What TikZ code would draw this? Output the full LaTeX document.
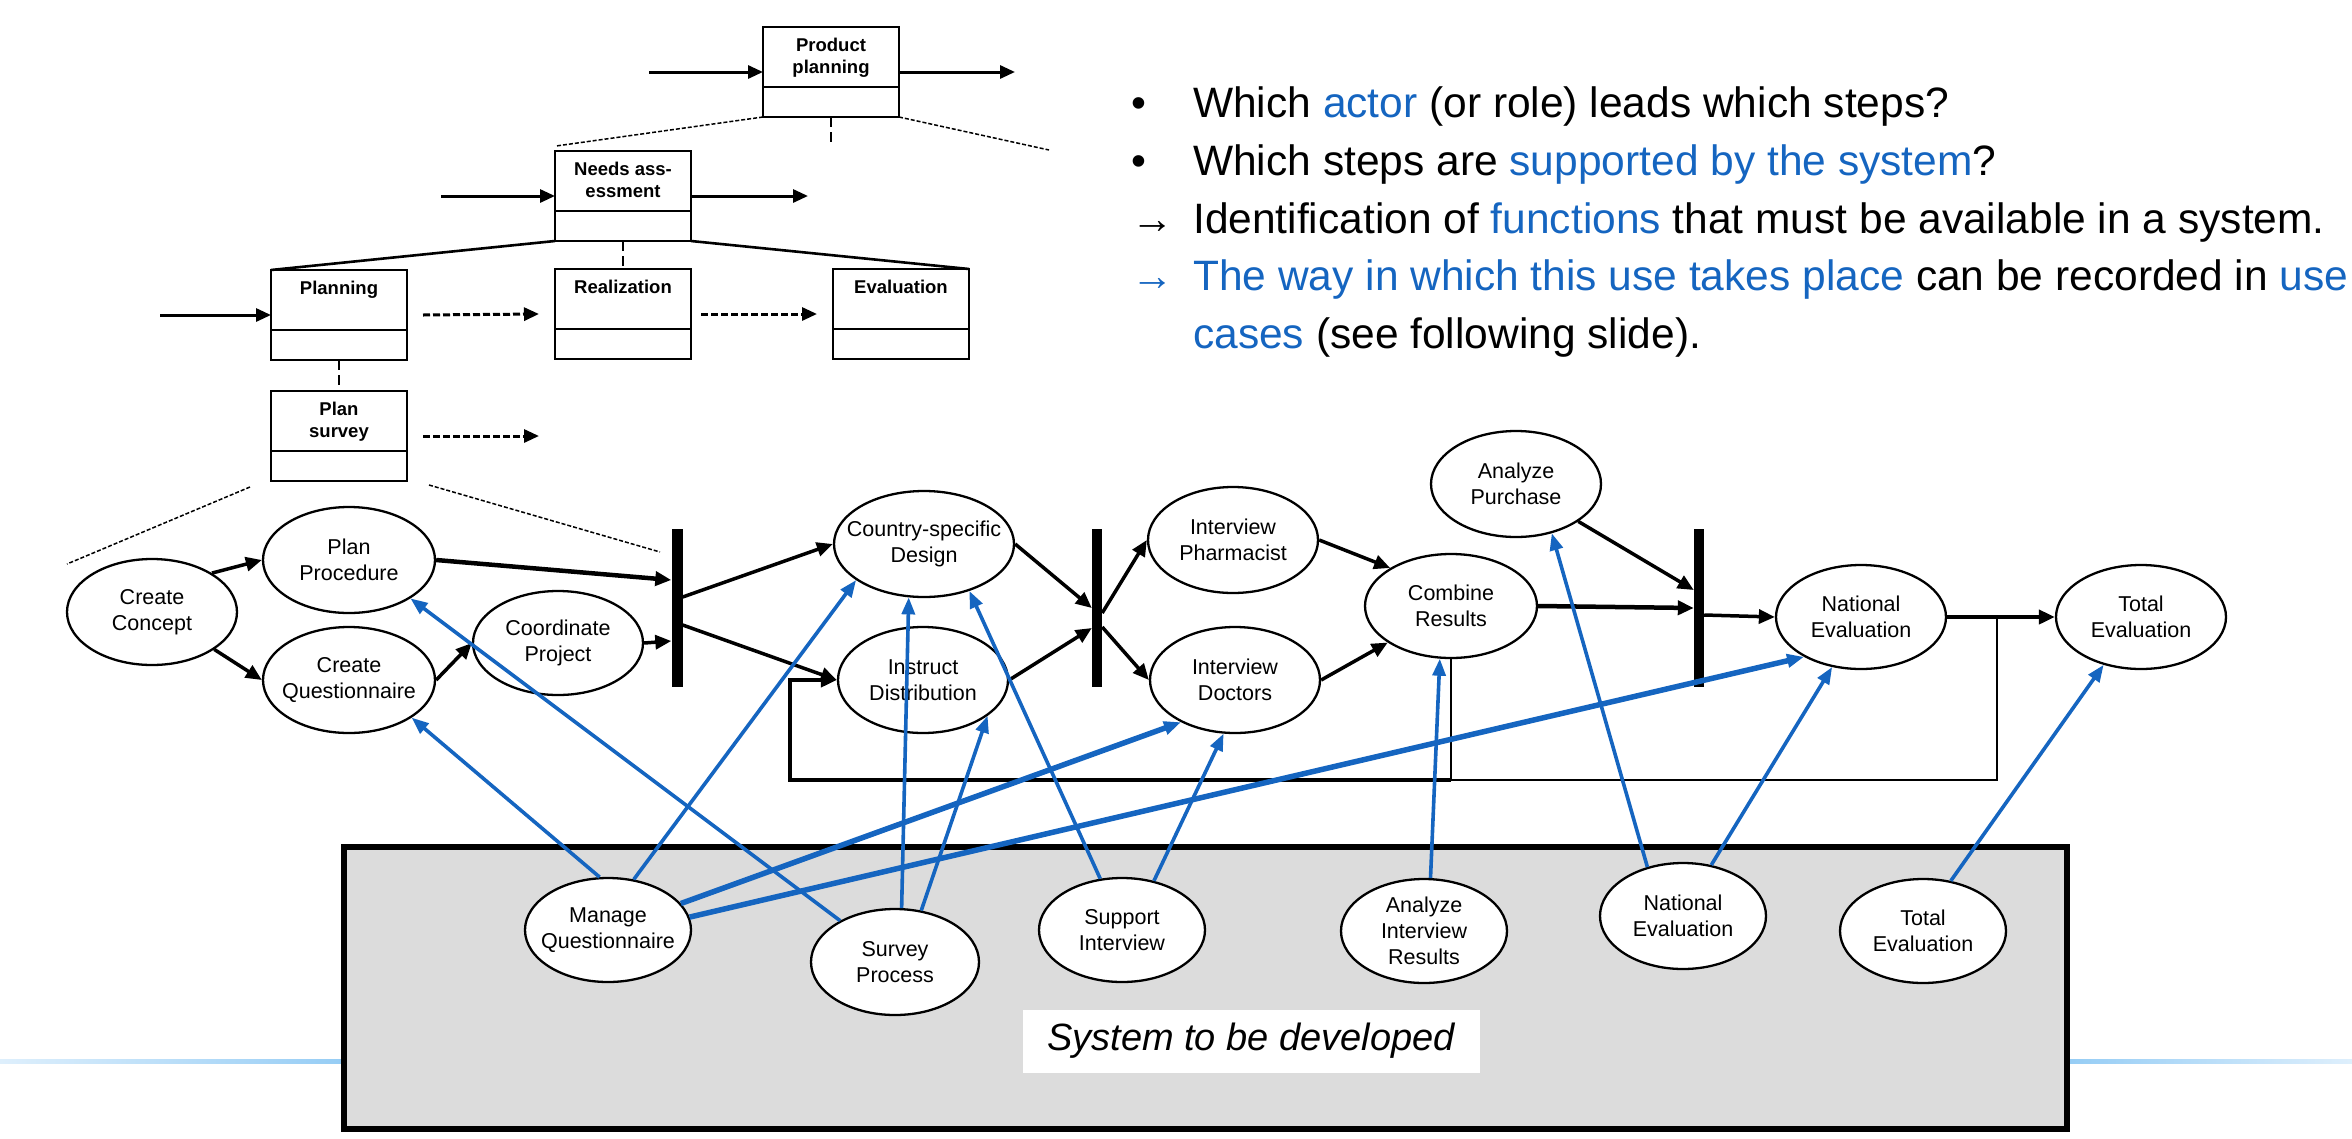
\documentclass[tikz,border=0pt]{standalone}
\usepackage{fontspec}
\setmainfont{Liberation Sans}
\usetikzlibrary{shapes.geometric,arrows.meta}
\definecolor{sysblue}{RGB}{21,101,192}
\definecolor{sysgray}{RGB}{220,220,220}
\definecolor{fadeblue}{RGB}{150,205,245}
\definecolor{paleblue}{RGB}{222,239,252}
\newcommand{\boxtext}[1]{\parbox[c][68pt][t]{130pt}{\centering #1}}
\tikzset{
  procbox/.style={draw, line width=2.6pt, minimum width=136pt, minimum height=90pt,
    inner sep=0pt, outer sep=0pt, font=\fontsize{18.5}{22}\selectfont\bfseries},
  activity/.style={ellipse, draw, line width=2.3pt, fill=white, inner xsep=-30pt, inner ysep=0pt,
    minimum width=170pt, minimum height=106pt, align=center, font=\fontsize{21.5}{26}\selectfont},
  syncbar/.style={fill=black, inner sep=0pt, minimum width=10pt, minimum height=158pt},
  bigarrow/.style={line width=3pt, -{Triangle[length=15pt,width=13pt]}},
  dasharrow/.style={bigarrow, dash pattern=on 7pt off 3pt},
  zoomline/.style={line width=1.5pt, dash pattern=on 4pt off 2pt},
  refine/.style={line width=2pt, dash pattern=on 10pt off 5pt},
  flow/.style={line width=3.5pt, -{Triangle[length=16pt,width=14pt]}},
  sysarrow/.style={draw=sysblue, line width=3.6pt, -{Triangle[length=17pt,width=13pt]}},
  sysarrowthick/.style={sysarrow, line width=5.5pt},
  slidetext/.style={font=\fontsize{42.5}{58}\selectfont, anchor=base west, inner sep=0pt},
  syslabel/.style={fill=white, minimum width=457pt, minimum height=63pt, font=\fontsize{38}{46}\selectfont\itshape}
}
\begin{document}
\begin{tikzpicture}[x=1pt,y=-1pt]
\useasboundingbox (0,0) rectangle (2352,1138);

% system frame
\shade[left color=paleblue, right color=fadeblue] (0,1059) rectangle (341,1063);
\shade[left color=fadeblue, right color=paleblue] (2070,1059) rectangle (2352,1063);
\filldraw[fill=sysgray, line width=6pt] (344,847) rectangle (2067,1129);
\node[syslabel] (label) at (1251,1041) {System to be developed};

% process hierarchy
\node[procbox] (prod) at (831,72) {\boxtext{Product\\planning}};
\node[procbox] (needs) at (623,196) {\boxtext{Needs ass-\\essment}};
\node[procbox] (plan) at (339,315) {\boxtext{Planning}};
\node[procbox] (real) at (623,314) {\boxtext{Realization}};
\node[procbox] (eval) at (901,314) {\boxtext{Evaluation}};
\node[procbox] (survey) at (339,436) {\boxtext{Plan\\survey}};
\foreach \b in {prod,needs,plan,real,eval,survey}
  \draw[line width=2.6pt] ([yshift=-15pt]\b.west) -- ([yshift=-15pt]\b.east);

\coordinate (prodIn) at (649,72);
\coordinate (prodOut) at (1015,72);
\coordinate (needsIn) at (441,196);
\coordinate (needsOut) at (808,196);
\coordinate (planIn) at (160,315);
\coordinate (surveyOut) at (539,436);
\coordinate (prodL) at (556,146);
\coordinate (prodR) at (1049,150);
\coordinate (prodD) at (831,145);
\coordinate (surveyL0) at (250,487);
\coordinate (surveyL) at (67,564);
\coordinate (surveyR0) at (429,485);
\coordinate (surveyR) at (660,552);

\draw[bigarrow] (prodIn) -- (prod);
\draw[bigarrow] (prod) -- (prodOut);
\draw[bigarrow] (needsIn) -- (needs);
\draw[bigarrow] (needs) -- (needsOut);
\draw[bigarrow] (planIn) -- (plan);
\draw[dasharrow] ([xshift=16pt]plan.east) -- ([xshift=-16pt]real.west);
\draw[dasharrow] ([xshift=10pt]real.east) -- ([xshift=-16pt]eval.west);
\draw[dasharrow] ([xshift=16pt]survey.east) -- (surveyOut);
\draw[zoomline] (prod.south west) -- (prodL);
\draw[zoomline] (prod.south east) -- (prodR);
\draw[refine] (prod.south) -- (prodD);
\draw[line width=2.6pt] (needs.south west) -- (plan.north west);
\draw[line width=2.6pt] (needs.south east) -- (eval.north east);
\draw[refine] (needs.south) -- (real.north);
\draw[refine] (plan.south) -- (survey.north);
\draw[zoomline] (surveyL0) -- (surveyL);
\draw[zoomline] (surveyR0) -- (surveyR);

% activities of the survey
\node[activity] (cc) at (152,612) {Create\\Concept};
\node[activity, minimum width=172pt] (pp) at (349,560) {Plan\\Procedure};
\node[activity, minimum width=172pt] (cq) at (349,680) {Create\\Questionnaire};
\node[activity, minimum height=104pt] (cp) at (558,643) {Coordinate\\Project};
\node[syncbar, minimum width=11pt] (bar1) at (677,608) {};
\node[activity, minimum width=180pt] (csd) at (924,544) {Country-specific\\Design};
\node[activity] (id) at (923,680) {Instruct\\Distribution};
\node[syncbar] (bar2) at (1097,608) {};
\node[activity] (ip) at (1233,540) {Interview\\Pharmacist};
\node[activity] (idoc) at (1235,680) {Interview\\Doctors};
\node[activity, minimum width=172pt, minimum height=104pt] (cr) at (1451,606) {Combine\\Results};
\node[activity] (ap) at (1516,484) {Analyze\\Purchase};
\node[syncbar] (bar3) at (1699,608) {};
\node[activity, minimum height=104pt] (ne) at (1861,617) {National\\Evaluation};
\node[activity, minimum height=104pt] (te) at (2141,617) {Total\\Evaluation};

\draw[flow] (cc.33) -- (pp.west);
\draw[flow] (cc.329) -- (cq.west);
\draw[flow] (cq.east) -- (cp.west);
\draw[flow, line width=4.5pt] (pp.east) -- ([yshift=28pt]bar1.west);
\draw[flow] (cp.east) -- ([yshift=-33pt]bar1.west);
\draw[flow] ([yshift=11pt]bar1.east) -- (csd.west);
\draw[flow] ([yshift=-17pt]bar1.east) -- (id.west);
\draw[flow] (csd.east) -- (bar2.west);
\draw[flow] (id.east) -- ([yshift=-20pt]bar2.west);
\draw[flow] ([yshift=-5pt]bar2.east) -- (ip.west);
\draw[flow] ([yshift=-19pt]bar2.east) -- (idoc.west);
\draw[flow] (ip.east) -- (cr.148);
\draw[flow] (idoc.east) -- (cr.210);
\draw[flow, line width=4.5pt] (cr.east) -- (bar3.west);
\draw[flow] (ap.329) -- ([yshift=18pt]bar3.west);
\draw[flow] ([yshift=-7pt]bar3.east) -- (ne.west);
\draw[flow, line width=4.5pt] (ne.east) -- (te.west);

% repeat loop
\coordinate (loopR) at (1997,617);
\coordinate (loopB) at (790,780);
\draw[line width=2.5pt] (loopR) |- (cr.south |- loopB);
\draw[line width=2.5pt] (cr.south) -- (cr.south |- loopB);
\draw[flow, line width=4.5pt] (cr.south |- loopB) -- (loopB) |- (id.west);

% system functions
\node[activity, minimum width=166pt, minimum height=104pt] (mq) at (608,930) {Manage\\Questionnaire};
\node[activity, minimum width=168pt] (sp) at (895,962) {Survey\\Process};
\node[activity, minimum width=166pt, minimum height=104pt] (si) at (1122,930) {Support\\Interview};
\node[activity, minimum width=166pt, minimum height=104pt] (air) at (1424,931) {Analyze\\Interview\\Results};
\node[activity, minimum width=166pt] (nes) at (1683,916) {National\\Evaluation};
\node[activity, minimum width=166pt, minimum height=104pt] (tes) at (1923,931) {Total\\Evaluation};

\draw[sysarrow] (mq.99) -- (cq.329);
\draw[sysarrow] (mq.63) -- (csd.208);
\draw[sysarrowthick] (mq.20) -- (idoc.218);
\draw[sysarrowthick] (mq.9) -- (ne.215);
\draw[sysarrow] (sp.143) -- (pp.328);
\draw[sysarrow] (sp.83) -- (csd.254);
\draw[sysarrow] (sp.63) -- (id.331);
\draw[sysarrow] (si.113) -- (csd.314);
\draw[sysarrow] (si.57) -- (idoc.258);
\draw[sysarrow] (air.83) -- (cr.258);
\draw[sysarrow] (nes.126) -- (ap.306);
\draw[sysarrow] (nes.61) -- (ne.240);
\draw[sysarrow] (tes.61) -- (te.232);

% questions
\node[slidetext] (m1) at (1131,117) {•};
\node[slidetext] (q1) at (1193,117) {Which \textcolor{sysblue}{actor} (or role) leads which steps?};
\node[slidetext] (m2) at (1131,175) {•};
\node[slidetext] (q2) at (1193,175) {Which steps are \textcolor{sysblue}{supported by the system}?};
\node[slidetext] (m3) at (1131,233) {→};
\node[slidetext] (q3) at (1193,233) {Identification of \textcolor{sysblue}{functions} that must be available in a system.};
\node[slidetext, text=sysblue] (m4) at (1131,290) {→};
\node[slidetext] (q4) at (1193,290) {\textcolor{sysblue}{The way in which this use takes place} can be recorded in \textcolor{sysblue}{use}};
\node[slidetext] (q5) at (1193,348) {\textcolor{sysblue}{cases} (see following slide).};
\end{tikzpicture}
\end{document}
